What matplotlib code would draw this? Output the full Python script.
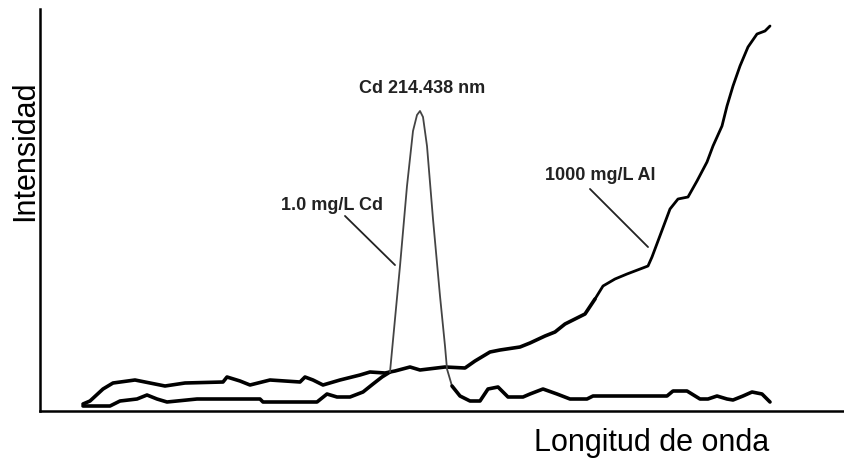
import matplotlib
matplotlib.use("Agg")
import matplotlib.pyplot as plt

plt.rcParams['font.family'] = ['Liberation Sans', 'DejaVu Sans']

# Al background (1000 mg/L Al), arbitrary units
al_x = [43, 50, 63, 73, 95, 105, 125, 145, 183, 187, 200, 210, 230, 260, 265, 273,
        283, 300, 320, 330, 345, 355, 370, 380, 405, 425, 435, 450, 460, 480, 490,
        505, 515, 525, 535, 545, 555, 563, 575, 587, 608, 612, 618, 630, 638, 648,
        657, 667, 673, 682, 687, 693, 700, 708, 717, 725, 730]
al_y = [7, 10, 22, 28, 31, 29, 25, 28, 29, 34, 30, 26, 31, 29, 34, 31,
        26, 31, 36, 39, 38, 40, 44, 41, 44, 43, 50, 59, 61, 64, 68,
        75, 79, 87, 92, 97, 112, 125, 132, 137, 145, 154, 170, 202, 212, 214,
        230, 249, 265, 285, 305, 325, 345, 364, 377, 380, 385]

# Cd emission line (1.0 mg/L Cd)
cd_x = [43, 70, 80, 97, 107, 117, 127, 157, 220, 223, 277, 287, 297, 310, 323, 333,
        342, 350, 360, 367, 373, 377, 380, 383, 387, 393, 400, 405, 407, 412, 420, 430,
        440, 448, 458, 468, 483, 490, 503, 517, 530, 547, 553, 627, 633, 647, 660,
        668, 677, 687, 693, 703, 712, 722, 730]
cd_y = [5, 5, 10, 12, 16, 12, 9, 12, 12, 9, 9, 17, 14, 14, 19, 27,
        34, 39, 145, 225, 280, 296, 300, 294, 265, 192, 115, 65, 42, 25, 15, 10,
        10, 22, 24, 14, 14, 17, 22, 17, 12, 12, 15, 15, 20, 20, 12,
        12, 15, 12, 11, 15, 19, 17, 9]

fig = plt.figure(figsize=(8.44, 4.6), dpi=100)
ax = fig.add_axes([40 / 844, 48 / 460, 804 / 844, 402 / 460])
ax.set_xlim(0, 804)
ax.set_ylim(0, 402)

# flat part of the Al trace looks heavier in the scan than the steep rise
a_lo = [i for i, x in enumerate(al_x) if x <= 555]
a_hi = [i for i, x in enumerate(al_x) if x >= 555]
ax.plot([al_x[i] for i in a_lo], [al_y[i] for i in a_lo], color='black', lw=2.6,
        solid_joinstyle='round', solid_capstyle='round')
ax.plot([al_x[i] for i in a_hi], [al_y[i] for i in a_hi], color='black', lw=2.0,
        solid_joinstyle='round', solid_capstyle='round')

# split the Cd trace so the steep peak is drawn thinner, like the scan
lo = [i for i, x in enumerate(cd_x) if x <= 350]
pk = [i for i, x in enumerate(cd_x) if 350 <= x <= 412]
hi = [i for i, x in enumerate(cd_x) if x >= 412]
for idx, lw, col in [(lo, 2.6, 'black'), (pk, 1.3, '#444444'), (hi, 2.6, 'black')]:
    ax.plot([cd_x[i] for i in idx], [cd_y[i] for i in idx], color=col, lw=lw,
            solid_joinstyle='round', solid_capstyle='round')

# labels with leader lines
lab = dict(fontsize=13, fontweight='bold', color='#222222', ha='center', va='center')
ax.text(382, 324, 'Cd 214.438 nm', **lab)
ax.text(292, 207, '1.0 mg/L Cd', **lab)
ax.text(560, 237, '1000 mg/L Al', **lab)
ax.annotate('', xy=(357, 144), xytext=(303, 197),
            arrowprops=dict(arrowstyle='-', color='#222222', lw=1.3))
ax.annotate('', xy=(610, 162), xytext=(548, 224),
            arrowprops=dict(arrowstyle='-', color='#222222', lw=1.3))

for s in ['top', 'right']:
    ax.spines[s].set_visible(False)
for s in ['left', 'bottom']:
    ax.spines[s].set_linewidth(1.8)
ax.set_xticks([])
ax.set_yticks([])

fig.text(652 / 844, 1 - 443 / 460, 'Longitud de onda', fontsize=22,
         ha='center', va='center')
fig.text(25 / 844, 1 - 151 / 460, 'Intensidad', fontsize=22, rotation=90,
         ha='center', va='center')

fig.savefig('out.png', dpi=100)
